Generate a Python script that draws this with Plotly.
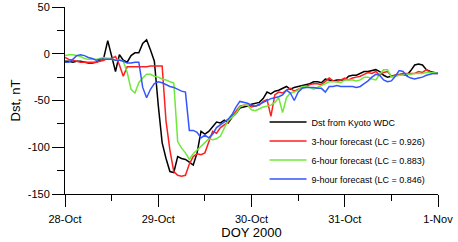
import plotly.graph_objects as go

# hours since 28-Oct-2000 00:00 UT
hours = list(range(0, 97))

dst_kyoto = [-8, -8, -9, -8, -8, -9, -10, -10, -9, -7, -4, 14, -3, -19, -1, -7, -9, -2, 1, 1,
             11, 15, 4, -8, -55, -95, -112, -126, -127, -110, -112, -113, -116, -119, -106, -83, -86, -83, -78, -73,
             -74, -71, -74, -68, -64, -58, -57, -56, -54, -53, -52, -48, -41, -43, -40, -39, -37, -35, -38, -36,
             -35, -34, -33, -32, -30, -30, -31, -27, -28, -29, -28, -28, -28, -24, -23, -23, -21, -19, -19, -18,
             -17, -19, -23, -25, -24, -23, -23, -23, -23, -18, -12, -11, -12, -17, -19, -20, -21]

fc_3h = [-4, -6, -7, -8, -9, -9, -9, -9, -9, -8, -7, -5, -5, -3, -12, -24, -14, -14, -14, -14,
         -14, -14, -13, -13, -13, -13, -72, -103, -126, -130, -131, -130, -118, -110, -107, -108, -106, -95, -83, -85,
         -79, -76, -73, -67, -61, -56, -55, -55, -57, -56, -55, -51, -49, -67, -44, -41, -42, -39, -37, -40,
         -38, -36, -35, -33, -32, -32, -33, -29, -26, -29, -30, -28, -26, -28, -26, -25, -24, -22, -20, -21,
         -19, -23, -20, -19, -24, -23, -22, -21, -21, -21, -21, -19, -20, -17, -20, -21, -21]

fc_6h = [-2, -1, -1, -2, -3, -5, -6, -6, -6, -5, -4, -5, -6, -7, -6, -8, -20, -38, -42, -31,
         -26, -22, -22, -24, -25, -27, -28, -30, -31, -94, -101, -106, -113, -107, -103, -99, -96, -91, -92, -91,
         -88, -79, -71, -68, -64, -57, -55, -55, -60, -61, -59, -57, -56, -55, -52, -47, -63, -47, -42, -41,
         -39, -35, -35, -36, -38, -36, -34, -32, -30, -30, -30, -31, -28, -28, -28, -29, -28, -25, -25, -27,
         -28, -22, -17, -17, -25, -24, -23, -23, -22, -22, -21, -21, -21, -20, -20, -20, -21]

fc_9h = [-9, -9, -6, -2, -1, -2, -4, -5, -7, -6, -6, -6, -6, -7, -7, -8, -10, -10, -9, -9,
         -36, -47, -38, -32, -30, -31, -33, -35, -36, -38, -40, -41, -82, -82, -84, -90, -87, -90, -86, -79,
         -76, -73, -70, -65, -57, -51, -52, -53, -55, -56, -54, -52, -50, -48, -47, -46, -44, -39, -42, -50,
         -41, -37, -36, -36, -36, -37, -37, -41, -35, -35, -34, -35, -35, -35, -35, -36, -35, -32, -29, -25,
         -22, -23, -28, -30, -29, -24, -18, -19, -24, -26, -27, -26, -25, -23, -22, -21, -21]

series_names = ["Dst from Kyoto WDC",
                "3-hour forecast (LC = 0.926)",
                "6-hour forecast (LC = 0.883)",
                "9-hour forecast (LC = 0.846)"]
series_values = [dst_kyoto, fc_3h, fc_6h, fc_9h]
series_colors = ["#000000", "#ff1f1f", "#6ee83a", "#3355ff"]

x_tickvals = [0, 24, 48, 72, 96]
x_ticktext = ["28-Oct", "29-Oct", "30-Oct", "31-Oct", "1-Nov"]
y_tickvals = [-150, -100, -50, 0, 50]
y_ticktext = ["-150", "-100", "-50", "0", "50"]

FONT = "Liberation Sans, Arial, sans-serif"

fig = go.Figure()
for name, vals, col in zip(series_names, series_values, series_colors):
    fig.add_trace(go.Scatter(x=hours, y=vals, mode="lines", name=name,
                             line=dict(color=col, width=1.5)))

axis_common = dict(showline=True, linecolor="black", linewidth=1, ticks="outside",
                   ticklen=12, tickwidth=1, tickcolor="black", showgrid=False,
                   zeroline=False, tickfont=dict(size=11, color="black", family=FONT),
                   automargin=False)

fig.update_layout(
    width=458, height=242,
    margin=dict(l=65, r=20, t=7, b=48),
    paper_bgcolor="white", plot_bgcolor="white",
    font=dict(family=FONT, color="black"),
    xaxis=dict(range=[0, 96], tickmode="array", tickvals=x_tickvals, ticktext=x_ticktext,
               minor=dict(ticks="outside", ticklen=6, tickmode="linear", tick0=0, dtick=12,
                          tickcolor="black", showgrid=False),
               ticklabelstandoff=3,
               title=dict(text="DOY 2000", font=dict(size=13), standoff=3),
               **axis_common),
    yaxis=dict(range=[-150, 50], tickmode="array", tickvals=y_tickvals, ticktext=y_ticktext,
               minor=dict(ticks="outside", ticklen=7, tickmode="linear", tick0=0, dtick=25,
                          tickcolor="black", showgrid=False),
               title=dict(text="Dst, nT", font=dict(size=13), standoff=4),
               **axis_common),
    showlegend=True,
    legend=dict(x=0.535, y=0.462, xanchor="left", yanchor="top",
                bgcolor="rgba(0,0,0,0)", font=dict(size=9, family=FONT),
                itemwidth=37, tracegroupgap=0),
)

fig.write_html("out.html",
               config={"displayModeBar": False},
               post_script="document.body.style.margin='0px';document.body.style.padding='0px';")
